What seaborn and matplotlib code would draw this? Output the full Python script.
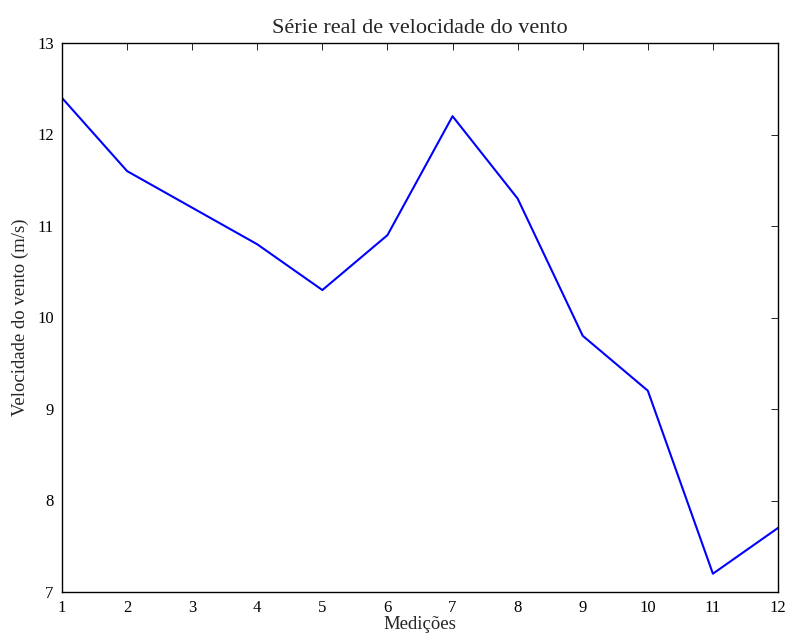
import matplotlib
matplotlib.use("Agg")
import matplotlib.pyplot as plt
import seaborn as sns
import pandas as pd

medicoes = [1, 2, 3, 4, 5, 6, 7, 8, 9, 10, 11, 12]
velocidade = [12.4, 11.6, 11.2, 10.8, 10.3, 10.9, 12.2, 11.3, 9.8, 9.2, 7.2, 7.7]

sns.set_theme(style="white")
plt.rcParams["font.family"] = ["Liberation Serif", "DejaVu Serif"]

df = pd.DataFrame({"Medições": medicoes, "Velocidade": velocidade})

fig = plt.figure(figsize=(7.89, 6.38), dpi=100)
ax = fig.add_axes([62 / 789, 46 / 638, (778 - 62) / 789, (592 - 43) / 638])

sns.lineplot(data=df, x="Medições", y="Velocidade", ax=ax, color="#0000ff", linewidth=1.5)

ax.set_xlim(1, 12)
ax.set_ylim(7, 13)
ax.set_xticks(range(1, 13))
ax.set_yticks(range(7, 14))
ax.tick_params(direction="in", length=5, width=0.6, top=True, right=True,
               labelsize=12, colors="black", pad=6)
for s in ax.spines.values():
    s.set_color("black")
    s.set_linewidth(1.0)

ax.set_title("Série real de velocidade do vento", fontsize=16, pad=7)
ax.set_xlabel("Medições", fontsize=13.5, labelpad=0)
ax.set_ylabel("Velocidade do vento (m/s)", fontsize=13.5, labelpad=6)

fig.savefig("out.png", dpi=100, facecolor="white")
